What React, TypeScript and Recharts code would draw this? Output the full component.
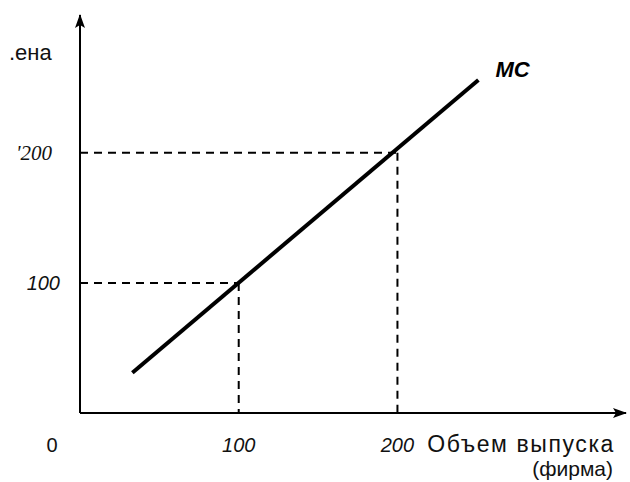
import React from "react";
import { LineChart, Line, XAxis, YAxis, ReferenceLine, LabelList, Label } from "recharts";

// MC curve endpoints (quantity, cost)
const mcQuantity = [33, 251];
const mcCost = [31, 256];

// dashed guides at the two read-off points
const guideQuantity = [100, 200];
const guideCost = [100, 200];

const xTicks = [0, 100, 200];
const xTickLabels = ["0", "100", "200"];
const yTicks = [100, 200];
const yTickLabels = ["100", "'200"];

const xDomainMax = 344;
const yDomainMax = 306;

const SANS = "'Liberation Sans', Arial, sans-serif";
const SERIF = "'Liberation Serif', 'Times New Roman', serif";

const data = mcQuantity.map((q, i) => ({ q, cost: mcCost[i] }));

function XTick(props: any) {
  const { x, y, payload } = props;
  const i = xTicks.indexOf(payload.value);
  const isZero = payload.value === 0;
  return (
    <text
      x={x + (isZero ? -28 : 0)}
      y={y + 31}
      textAnchor="middle"
      fontFamily={SANS}
      fontSize={20}
      fontStyle={isZero ? "normal" : "italic"}
      fill="#111"
    >
      {xTickLabels[i]}
    </text>
  );
}

function YTick(props: any) {
  const { x, y, payload } = props;
  const i = yTicks.indexOf(payload.value);
  const serif = payload.value === 200;
  return (
    <text
      x={x - (serif ? 20 : 12)}
      y={y + 7}
      textAnchor="end"
      fontFamily={serif ? SERIF : SANS}
      fontSize={serif ? 21 : 20}
      fontStyle="italic"
      fill="#111"
    >
      {yTickLabels[i]}
    </text>
  );
}

function McLabel(props: any) {
  const { x, y, index } = props;
  if (index !== data.length - 1) return null;
  return (
    <text x={x + 17} y={y - 3} fontFamily={SANS} fontSize={22} fontWeight="bold" fontStyle="italic" fill="#000">
      MC
    </text>
  );
}

export default function App() {
  return (
    <div style={{ position: "absolute", left: 0, top: 0, width: 630, height: 482, background: "#fff" }}>
      {/* arrowheads for the axes */}
      <svg width={0} height={0} style={{ position: "absolute" }}>
        <defs>
          <marker id="arrow" viewBox="0 0 14 10" refX={13} refY={5} markerWidth={14} markerHeight={10} markerUnits="userSpaceOnUse" orient="auto-start-reverse">
            <path d="M0,0 L14,5 L0,10 L3,5 Z" fill="#000" />
          </marker>
        </defs>
      </svg>
      <LineChart width={630} height={482} data={data} margin={{ top: 15, right: 4, left: 0, bottom: 0 }}>
        <XAxis
          type="number"
          dataKey="q"
          domain={[0, xDomainMax]}
          ticks={xTicks}
          tick={<XTick />}
          tickLine={false}
          height={69}
          axisLine={{ stroke: "#000", strokeWidth: 2, markerEnd: "url(#arrow)" }}
          allowDataOverflow
        >
          <Label
            content={(p: any) => (
              <text fontFamily={SANS} fill="#111" textAnchor="end">
                <tspan x={p.viewBox.x + 535} y={p.viewBox.y + 39} fontSize={23} letterSpacing={1.6}>
                  Объем выпуска
                </tspan>
                <tspan x={p.viewBox.x + 533} y={p.viewBox.y + 63} fontSize={21}>
                  (фирма)
                </tspan>
              </text>
            )}
          />
        </XAxis>
        <YAxis
          type="number"
          domain={[0, yDomainMax]}
          ticks={yTicks}
          tick={<YTick />}
          tickLine={false}
          width={80}
          axisLine={{ stroke: "#000", strokeWidth: 2, markerStart: "url(#arrow)" }}
          allowDataOverflow
        >
          <Label
            content={(p: any) => (
              <text x={p.viewBox.x + 9} y={p.viewBox.y + 45} fontFamily={SANS} fontSize={22} fill="#111">
                .ена
              </text>
            )}
          />
        </YAxis>
        {guideQuantity.map((q, i) => (
          <ReferenceLine
            key={`h-${q}`}
            segment={[{ x: 0, y: guideCost[i] }, { x: q, y: guideCost[i] }]}
            stroke="#000"
            strokeWidth={2}
            strokeDasharray="8 6"
          />
        ))}
        {guideQuantity.map((q, i) => (
          <ReferenceLine
            key={`v-${q}`}
            segment={[{ x: q, y: guideCost[i] }, { x: q, y: 0 }]}
            stroke="#000"
            strokeWidth={2}
            strokeDasharray="8 6"
          />
        ))}
        <Line
          type="linear"
          dataKey="cost"
          stroke="#000"
          strokeWidth={4}
          dot={false}
          activeDot={false}
          isAnimationActive={false}
        >
          <LabelList content={<McLabel />} />
        </Line>
      </LineChart>
    </div>
  );
}
